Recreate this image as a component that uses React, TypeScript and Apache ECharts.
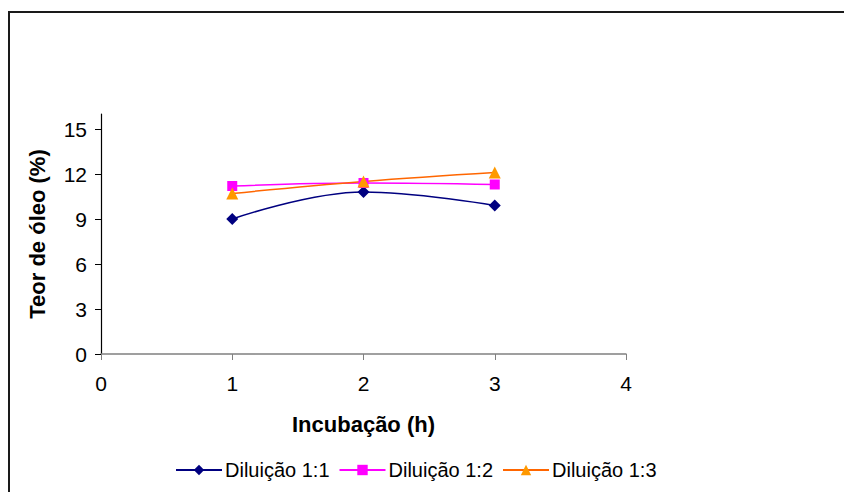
import React, { useEffect, useRef } from "react";
import * as echarts from "echarts";

const hours = [1, 2, 3];
const dil11 = [9.0, 10.8, 9.9];
const dil12 = [11.2, 11.4, 11.3];
const dil13 = [10.7, 11.5, 12.1];
const seriesNames = ["Diluição 1:1", "Diluição 1:2", "Diluição 1:3"];
const yTicks = [0, 3, 6, 9, 12, 15];
const xTicks = [0, 1, 2, 3, 4];

const FONT = "'Liberation Sans', Arial, sans-serif";

export default function App() {
  const ref = useRef<HTMLDivElement>(null);
  useEffect(() => {
    if (!ref.current) return;
    const chart = echarts.init(ref.current, null, { renderer: "svg" });
    const toPairs = (vals: number[]) => hours.map((h, i) => [h, vals[i]]);
    chart.setOption({
      animation: false,
      backgroundColor: "#ffffff",
      textStyle: { fontFamily: FONT },
      graphic: [
        {
          type: "rect",
          shape: { x: 9, y: 12, width: 900, height: 600 },
          style: { fill: "none", stroke: "#1a1a1a", lineWidth: 2 },
          silent: true,
        },
      ],
      grid: { left: 101, right: 218, top: 114, bottom: 138, containLabel: false },
      xAxis: {
        type: "value",
        min: 0,
        max: 4,
        interval: 1,
        name: "Incubação (h)",
        nameLocation: "middle",
        nameGap: 59,
        nameTextStyle: { fontFamily: FONT, fontSize: 22, fontWeight: "bold", color: "#000" },
        axisLine: { onZero: false, lineStyle: { color: "#808080", width: 1.5 } },
        axisTick: { show: true, length: 6, inside: false, lineStyle: { color: "#808080" }, customValues: xTicks },
        axisLabel: { fontFamily: FONT, fontSize: 21, color: "#000", margin: 19, customValues: xTicks },
        splitLine: { show: false },
      },
      yAxis: {
        type: "value",
        min: 0,
        max: 16,
        interval: 3,
        name: "Teor de óleo (%)",
        nameLocation: "middle",
        nameGap: 53,
        nameTextStyle: { fontFamily: FONT, fontSize: 22, fontWeight: "bold", color: "#000" },
        axisLine: { show: true, onZero: false, lineStyle: { color: "#000", width: 1.2 } },
        axisTick: { show: true, length: 6, lineStyle: { color: "#000" }, customValues: yTicks },
        axisLabel: { fontFamily: FONT, fontSize: 21, color: "#000", margin: 14, customValues: yTicks },
        splitLine: { show: false },
      },
      legend: {
        top: 455,
        left: 170,
        itemWidth: 46,
        itemHeight: 13,
        itemGap: 9,
        textStyle: { fontFamily: FONT, fontSize: 20, color: "#000", padding: [0, 0, 0, -2] },
        data: seriesNames,
      },
      series: [
        {
          name: seriesNames[0],
          type: "line",
          data: toPairs(dil11),
          smooth: 0.4,
          symbol: "diamond",
          symbolSize: 12,
          lineStyle: { color: "#000080", width: 1.5 },
          itemStyle: { color: "#000080" },
        },
        {
          name: seriesNames[1],
          type: "line",
          data: toPairs(dil12),
          smooth: 0.4,
          symbol: "rect",
          symbolSize: 10,
          lineStyle: { color: "#FF00FF", width: 1.5 },
          itemStyle: { color: "#FF00FF" },
        },
        {
          name: seriesNames[2],
          type: "line",
          data: toPairs(dil13),
          smooth: 0.4,
          symbol: "triangle",
          symbolSize: 12,
          lineStyle: { color: "#FF6600", width: 1.5 },
          itemStyle: { color: "#FF9900" },
        },
      ],
    });
    return () => chart.dispose();
  }, []);
  return (
    <div
      ref={ref}
      style={{ position: "fixed", left: 0, top: 0, width: 844, height: 492, background: "#fff" }}
    />
  );
}
